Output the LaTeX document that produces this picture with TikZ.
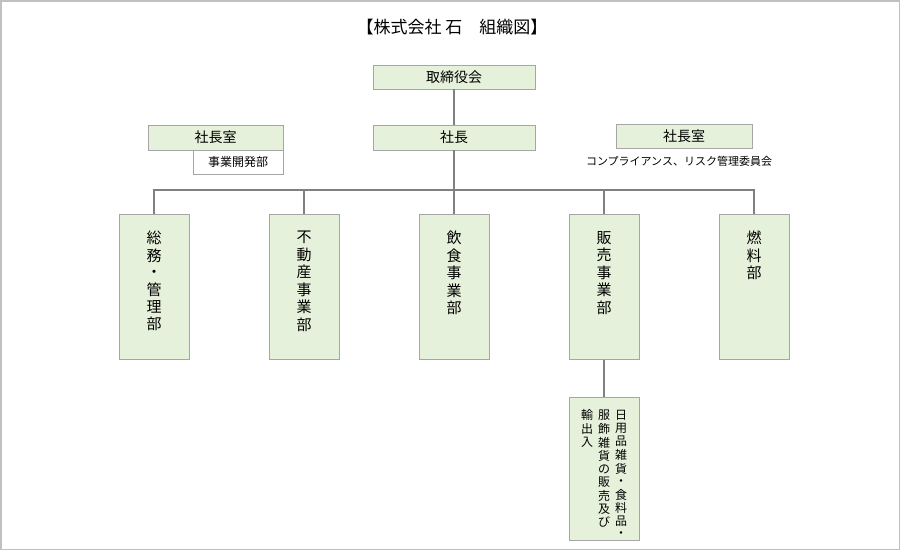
\documentclass[tikz,border=0pt]{standalone}
\usepackage{fontspec}
\setmainfont{Noto Sans CJK JP}
\definecolor{boxfill}{RGB}{230,241,219}
\definecolor{boxline}{RGB}{166,166,166}
\definecolor{connc}{RGB}{128,128,128}
\definecolor{framec}{RGB}{192,192,192}
\newcommand{\vcol}[1]{\begin{tabular}[t]{@{}c@{}}#1\end{tabular}}
\begin{document}
\begin{tikzpicture}[x=1pt,y=-1pt,
  box/.style={draw=boxline, fill=boxfill, line width=0.9pt, inner sep=0pt, font=\fontsize{14}{14}\selectfont},
  dept/.style={box, minimum width=70pt, minimum height=145pt},
  vlab/.style={anchor=north, yshift=-17pt, inner sep=0pt, font=\fontsize{15}{16.3}\selectfont},
  slab/.style={anchor=north, yshift=-13pt, inner sep=0pt, font=\fontsize{12}{12}\selectfont},
  conn/.style={draw=connc, line width=1.5pt}]
\useasboundingbox (0,0) rectangle (900,550);
\draw[framec, line width=1.5pt] (0.75,0.75) rectangle (899.25,549.25);
% title
\node[inner sep=0pt, font=\fontsize{17}{17}\selectfont] (title) at (452,27) {【株式会社 石　組織図】};
% top boxes
\node[box, minimum width=162pt, minimum height=24pt] (yaku) at (454,77) {取締役会};
\node[box, minimum width=162pt, minimum height=25pt] (shacho) at (454,137.5) {社長};
\node[box, minimum width=135pt, minimum height=25pt] (shitsuL) at (215.5,137.5) {社長室};
\node[box, fill=white, minimum width=90pt, minimum height=24pt, font=\fontsize{12}{12}\selectfont] (jigyo) at (238,162) {事業開発部};
\node[box, minimum width=136pt, minimum height=24pt] (shitsuR) at (684,136.5) {社長室};
\node[inner sep=0pt, font=\fontsize{11}{11}\selectfont] (comp) at (679,161) {コンプライアンス、リスク管理委員会};
% departments
\node[dept, label={[vlab]north:{\vcol{総\\務\\・\\管\\理\\部}}}] (soumu) at (154,287) {};
\node[dept, label={[vlab]north:{\vcol{不\\動\\産\\事\\業\\部}}}] (fudo) at (304,287) {};
\node[dept, label={[vlab]north:{\vcol{飲\\食\\事\\業\\部}}}] (inshoku) at (454,287) {};
\node[dept, label={[vlab]north:{\vcol{販\\売\\事\\業\\部}}}] (hanbai) at (604,287) {};
\node[dept, label={[vlab]north:{\vcol{燃\\料\\部}}}] (nenryo) at (754,287) {};
% sub box
\node[box, minimum width=70pt, minimum height=143pt,
  label={[slab]north:{\vcol{輸\\出\\入}\hspace{5pt}\vcol{服\\飾\\雑\\貨\\の\\販\\売\\及\\び}\hspace{5pt}\vcol{日\\用\\品\\雑\\貨\\・\\食\\料\\品\\・}}}] (yushutsu) at (604,468.5) {};
% connectors
\coordinate (bus) at (454,190);
\draw[conn] (yaku) -- (shacho);
\draw[conn] (shacho) -- (inshoku);
\draw[conn] (soumu.north) |- (bus) -| (nenryo.north);
\draw[conn] (fudo.north) -- (fudo.north |- bus);
\draw[conn] (hanbai.north) -- (hanbai.north |- bus);
\draw[conn] (hanbai) -- (yushutsu);
\end{tikzpicture}
\end{document}
